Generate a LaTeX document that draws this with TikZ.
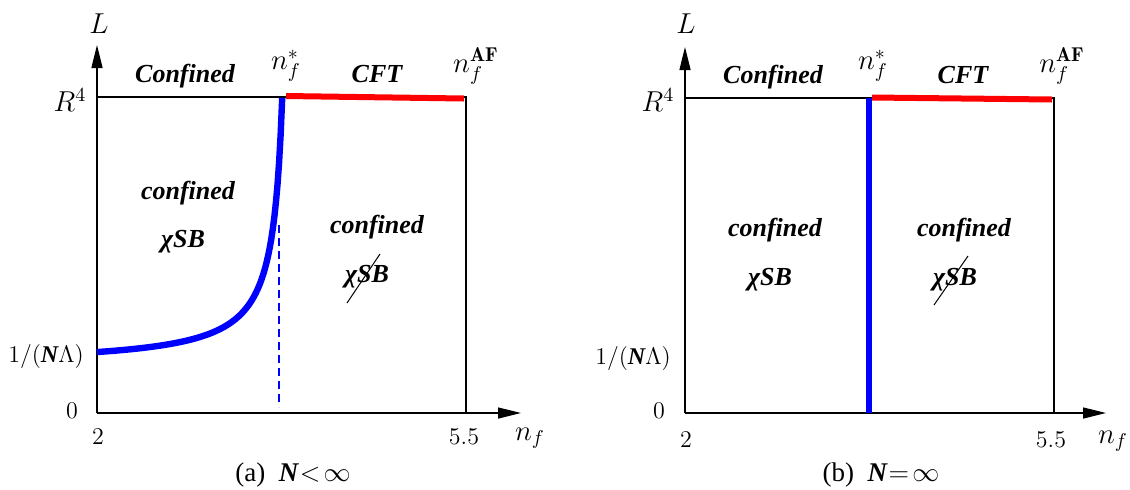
\RequirePackage{fix-cm}
\documentclass[tikz,border=0pt]{standalone}
\usepackage{fontspec}
\usepackage{amsmath}
\usetikzlibrary{arrows.meta}
\newfontfamily\tms{Liberation Serif}
\tikzset{
 ax/.style={line width=0.65pt, -{Triangle[length=11.5pt,width=5.5pt]}},
 frame/.style={line width=0.6pt},
 lbl/.style={font=\tms\bfseries\itshape\fontsize{13}{15}\selectfont, inner sep=0pt},
 mlbl/.style={font=\Large, inner sep=0pt},
 num/.style={font=\fontsize{12}{14}\selectfont, inner sep=0pt},
 captext/.style={font=\tms\fontsize{13.5}{15}\selectfont, inner sep=0pt},
 bluethick/.style={blue, line width=3.2pt},
 redthick/.style={red, line width=3pt},
 slashline/.style={line width=0.5pt},
 bdash/.style={blue, line width=0.6pt, dash pattern=on 4pt off 2.5pt},
}
\newcommand{\bN}{{\tms\bfseries\itshape N}}
\begin{document}
\begin{tikzpicture}[x=0.5pt,y=-0.5pt]
\useasboundingbox (0,0) rectangle (1130,489);
% ---------- panel (a) ----------
\coordinate (Oa) at (97,413);
\coordinate (Ya) at (97,45);
\coordinate (Xa) at (521,413);
\coordinate (TLa) at (97,97);
\coordinate (TRa) at (466,97);
\coordinate (BRa) at (466,413);
\draw[ax] (Oa) -- (Ya);
\draw[ax] (Oa) -- (Xa);
\draw[frame] (TLa) -- (TRa) -- (BRa);
\coordinate (Ra1) at (286,96);
\coordinate (Ra2) at (464,98.5);
\draw[redthick] (Ra1) -- (Ra2);
\draw[bluethick] plot[domain=97:282.2, samples=120] (\x,{365.5-2623/(292-\x)});
\coordinate (Da1) at (279,225);
\coordinate (Da2) at (279,407);
\draw[bdash] (Da1) -- (Da2);
\node[mlbl] (La) at (99,24) {$L$};
\node[mlbl] (R4a) at (70,100) {$R^4$};
\node[lbl] (Cona) at (185,76) {Confined};
\node[mlbl] (nsa) at (286,66) {$n_f^*$};
\node[lbl] (CFTa) at (377,74) {CFT};
\node[mlbl] (nAFa) at (476,66) {$n_f^{\mathbf{AF}}$};
\node[lbl] (c1a) at (188,193) {confined};
\node[lbl] (x1a) at (183,242) {χSB};
\node[lbl] (c2a) at (377,227) {confined};
\node[lbl] (x2a) at (367,277) {χSB};
\coordinate (Sa1) at (347,303);
\coordinate (Sa2) at (380,254);
\draw[slashline] (Sa1) -- (Sa2);
\node[num] (NLa) at (46,357) {1/(\bN$\Lambda$)};
\node[num] (Za) at (72,411) {0};
\node[num] (Ta) at (98,437) {2};
\node[num] (Fa) at (464,437) {5.5};
\node[mlbl] (nfa) at (530,438) {$n_f$};
\node[captext] (capa) at (293,475) {(a)\enspace\bN$\mkern1mu{<}\mkern2mu\infty$};
% ---------- panel (b) ----------
\coordinate (Ob) at (685,413);
\coordinate (Yb) at (685,47);
\coordinate (Xb) at (1106,413);
\coordinate (TLb) at (685,98);
\coordinate (TRb) at (1054,98);
\coordinate (BRb) at (1054,413);
\draw[ax] (Ob) -- (Yb);
\draw[ax] (Ob) -- (Xb);
\draw[frame] (TLb) -- (TRb) -- (BRb);
\coordinate (Rb1) at (872,97.5);
\coordinate (Rb2) at (1052,99.5);
\draw[redthick] (Rb1) -- (Rb2);
\coordinate (Bb1) at (869,98);
\coordinate (Bb2) at (869,413);
\draw[bluethick] (Bb1) -- (Bb2);
\node[mlbl] (Lb) at (686,24) {$L$};
\node[mlbl] (R4b) at (658,100) {$R^4$};
\node[lbl] (Conb) at (773,77) {Confined};
\node[mlbl] (nsb) at (873,66) {$n_f^*$};
\node[lbl] (CFTb) at (963,75) {CFT};
\node[mlbl] (nAFb) at (1062,66) {$n_f^{\mathbf{AF}}$};
\node[lbl] (c1b) at (775,230) {confined};
\node[lbl] (x1b) at (770,280) {χSB};
\node[lbl] (c2b) at (964,230) {confined};
\node[lbl] (x2b) at (955,280) {χSB};
\coordinate (Sb1) at (934,305);
\coordinate (Sb2) at (968,256);
\draw[slashline] (Sb1) -- (Sb2);
\node[num] (NLb) at (633,359) {1/(\bN$\Lambda$)};
\node[num] (Zb) at (659,411) {0};
\node[num] (Tb) at (686,440) {2};
\node[num] (Fb) at (1051,440) {5.5};
\node[mlbl] (nfb) at (1113,441) {$n_f$};
\node[captext] (capb) at (881,475) {(b)\enspace\bN$\mkern1mu{=}\mkern2mu\infty$};
\end{tikzpicture}
\end{document}
